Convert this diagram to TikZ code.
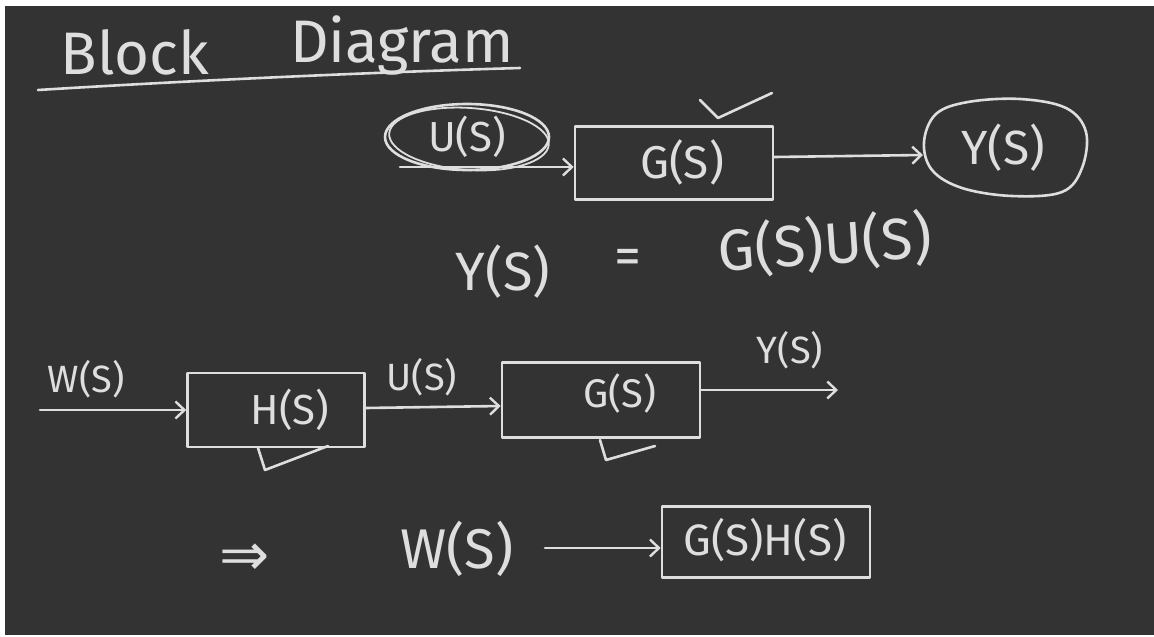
\documentclass[tikz,border=0pt]{standalone}
\usepackage{fontspec}
\setmainfont{Fira Sans}
\newfontfamily\symfont{DejaVu Sans}
\usetikzlibrary{arrows.meta,shapes.geometric}
\definecolor{board}{RGB}{51,51,51}
\definecolor{chalkc}{RGB}{222,222,222}
\newcommand\hwsize[1]{\fontsize{#1}{#1}\selectfont}
\tikzset{
  chalk/.style={draw=chalkc, line width=2.6pt, line cap=round, line join=round},
  arr/.style={chalk, -{Straight Barb[length=9pt,width=17pt,line width=2.4pt]}},
  blockbox/.style={chalk, rectangle, inner sep=0pt},
  hw/.style={text=chalkc, inner sep=0pt, font=\hwsize{#1}},
  hw/.default=40
}
\begin{document}
\begin{tikzpicture}[x=1pt,y=-1pt]
\useasboundingbox (0,0) rectangle (1154,637);
\fill[white] (0,0) rectangle (1154,637);
\fill[board] (5,6) rectangle (1154,635);

% title
\node[hw=60] (title1) at (135,52) {Block};
\node[hw=60] (title2) at (402,45) {Diagram};
\draw[chalk] (38,90) .. controls (200,80) and (380,72) .. (520,68);

% top row
\node[hw=42, chalk, ellipse, minimum width=164pt, minimum height=66pt] (u1) at (467,137) {U(S)};
\draw[chalk, line width=1.8pt] (469,139) ellipse [x radius=80, y radius=31, rotate=-4];
\node[blockbox, minimum width=198pt, minimum height=73pt] (g1) at (674,163) {};
\node[hw=46] (g1t) at (682,162) {G(S)};
\coordinate (ustart) at (400,167);
\draw[arr] (ustart) -- (ustart -| g1.west);
\draw[chalk] (700,100) -- (718,118) -- (772,93);

\node[hw=48] (y1) at (1003,148) {Y(S)};
\draw[chalk] plot[smooth cycle, tension=0.6] coordinates {(924,142) (936,114) (968,102) (1020,99) (1066,108) (1086,132) (1082,168) (1062,192) (1012,196) (962,188) (932,170)};
\coordinate (yin) at (923,155);
\draw[arr] (g1.east |- 0,157) -- (yin);

% equation
\node[hw=54] (eqL) at (503,272) {Y(S)};
\node[hw=54] (eqeq) at (628,262) {=};
\node[hw=58, rotate=4] (eqR) at (825,244) {G(S)U(S)};

% second row
\node[hw=38] (wlab) at (86,379) {W(S)};
\node[blockbox, minimum width=177pt, minimum height=74pt] (h2) at (276,410) {};
\node[hw=42] (h2t) at (290,410) {H(S)};
\coordinate (wstart) at (40,410);
\draw[arr] (wstart) -- (wstart -| h2.west);
\draw[chalk] (258,448) -- (265,470) -- (328,446);

\node[blockbox, minimum width=198pt, minimum height=75pt] (g2) at (601,400) {};
\node[hw=40] (g2t) at (620,393) {G(S)};
\draw[arr] (h2.east |- 0,408) -- (g2.west |- 0,406);
\node[hw=38] (ulab) at (422,377) {U(S)};
\draw[chalk] (600,440) -- (606,460) -- (655,446);

\coordinate (yend) at (838,390);
\draw[arr] (g2.east |- yend) -- (yend);
\node[hw=38] (ylab) at (790,350) {Y(S)};

% third row
\node[hw=60, font=\hwsize{60}\symfont] (imp) at (245,560) {⇒};
\node[hw=56] (w3) at (457,549) {W(S)};
\node[blockbox, minimum width=208pt, minimum height=71pt] (gh3) at (766,542) {};
\node[hw=44] (gh3t) at (765,540) {G(S)H(S)};
\coordinate (wout) at (545,548);
\draw[arr] (wout) -- (gh3.west |- wout);
\end{tikzpicture}
\end{document}
